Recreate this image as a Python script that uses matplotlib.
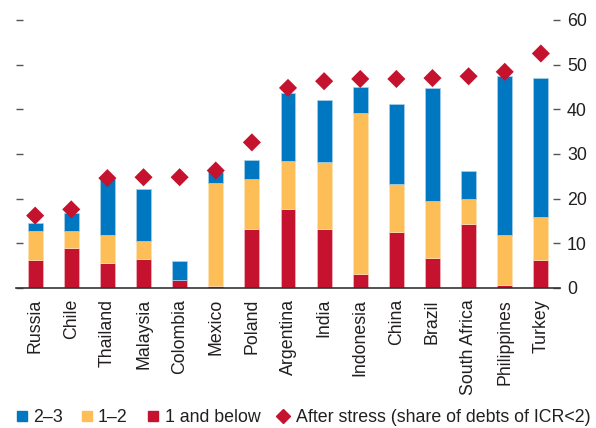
import matplotlib
matplotlib.use("Agg")
import matplotlib.pyplot as plt
from matplotlib.lines import Line2D
import numpy as np

plt.rcParams['font.family'] = ['Liberation Sans', 'DejaVu Sans']

countries = ["Russia", "Chile", "Thailand", "Malaysia", "Colombia", "Mexico", "Poland",
             "Argentina", "India", "Indonesia", "China", "Brazil", "South Africa",
             "Philippines", "Turkey"]
below1 = [6.3, 9.0, 5.6, 6.6, 1.7, 0.45, 13.2, 17.7, 13.3, 3.1, 12.5, 6.8, 14.4, 0.7, 6.2]
top_1_2 = [12.7, 12.8, 11.8, 10.5, 1.8, 23.5, 24.3, 28.4, 28.1, 39.1, 23.2, 19.4, 19.9, 11.8, 15.8]
top_2_3 = [14.6, 16.7, 24.4, 22.1, 6.0, 25.9, 28.6, 43.7, 42.2, 45.1, 41.3, 44.8, 26.3, 47.5, 47.0]
after_stress = [16.2, 17.6, 24.6, 24.8, 24.8, 26.3, 32.6, 44.8, 46.3, 46.8, 46.8, 47.0, 47.4, 48.4, 52.5]
yticks = [0, 10, 20, 30, 40, 50, 60]
legend_labels = ['2–3', '1–2', '1 and below', 'After stress (share of debts of ICR<2)']

b1 = np.array(below1)
s12 = np.array(top_1_2) - b1
s23 = np.array(top_2_3) - np.array(top_1_2)

BLUE = '#0078C1'
YELLOW = '#FDBE57'
RED = '#C4122F'
TXT = '#231F20'
FS = 12.8

W, H = 596, 428
fig = plt.figure(figsize=(W/100, H/100), dpi=100)
ax = fig.add_axes([16/W, 1 - 288/H, (560-16)/W, (288-20)/H])
x = np.arange(len(countries))
w = 0.41
ax.bar(x, b1, w, color=RED, edgecolor='#f3b8c0', linewidth=0.5, zorder=2)
ax.bar(x, s12, w, bottom=b1, color=YELLOW, edgecolor='#fde3b5', linewidth=0.5, zorder=2)
ax.bar(x, s23, w, bottom=np.array(top_1_2), color=BLUE, edgecolor='#a9d0ea', linewidth=0.5, zorder=2)
ax.scatter(x, after_stress, marker='D', s=85, color=RED, edgecolors='none', zorder=3)

ax.set_xlim(-0.53, 14.53)
ax.set_ylim(0, 60)
for s in ['top', 'left', 'right']:
    ax.spines[s].set_visible(False)
ax.spines['bottom'].set_color('#333333')
ax.spines['bottom'].set_linewidth(1.2)
ax.set_yticks(yticks)
ax.tick_params(axis='y', which='both', left=True, right=True, labelleft=False, labelright=True,
               direction='in', length=5, width=1, color='#555555', labelsize=FS,
               labelcolor=TXT, pad=5)
ax.set_xticks(x)
ax.set_xticklabels(countries, rotation=90, fontsize=FS, color=TXT)
ax.tick_params(axis='x', length=0, pad=8)

# legend, placed manually (figure pixel positions)
leg_marker_x = [22, 87, 153, 283]
leg_text_x = [33, 98, 165, 296]
leg_markers = ['s', 's', 's', 'D']
leg_colors = [BLUE, YELLOW, RED, RED]
ly = 1 - 416/H
for mx, tx, mk, c, lab in zip(leg_marker_x, leg_text_x, leg_markers, leg_colors, legend_labels):
    fig.add_artist(Line2D([mx/W], [ly], marker=mk, color=c, markersize=7.5 if mk == 's' else 7,
                          linestyle='none', transform=fig.transFigure))
    fig.text(tx/W, ly, lab, fontsize=FS, color=TXT, ha='left', va='center_baseline')

fig.savefig('out.png', dpi=100)
